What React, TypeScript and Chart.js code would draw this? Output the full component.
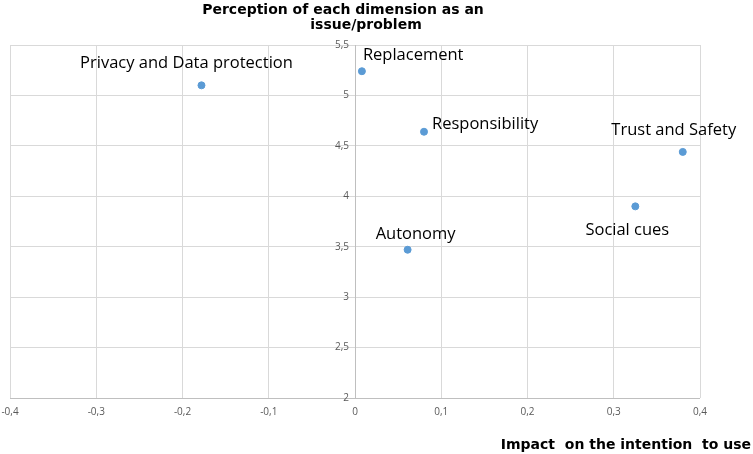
import React, { useEffect, useRef } from "react";
import { Chart, registerables } from "chart.js";

Chart.register(...registerables);

const dimensions = [
  "Privacy and Data protection",
  "Replacement",
  "Responsibility",
  "Trust and Safety",
  "Social cues",
  "Autonomy",
];
const impactValues = [-0.178, 0.008, 0.08, 0.38, 0.325, 0.061];
const perceptionValues = [5.1, 5.24, 4.64, 4.44, 3.9, 3.47];
const labelPlacement = ["aboveLeft", "aboveRight", "right", "aboveLeft", "below", "above"];

const xTickLabels = ["-0,4", "-0,3", "-0,2", "-0,1", "0", "0,1", "0,2", "0,3", "0,4"];
const yTickLabels = ["2", "2,5", "3", "3,5", "4", "4,5", "5", "5,5"];

const titleTop = ["Perception of each dimension as an", "issue/problem"];
const titleBottom = "Impact  on the intention  to use";

const labelFont = "16.5px 'Open Sans', sans-serif";

const overlay = {
  id: "overlay",
  afterDraw(chart: any) {
    const ctx = chart.ctx;
    const xs = chart.scales.x;
    const ys = chart.scales.y;
    const area = chart.chartArea;
    ctx.save();
    // y axis line at x = 0
    const x0 = xs.getPixelForValue(0);
    ctx.strokeStyle = "#bfbfbf";
    ctx.lineWidth = 1;
    ctx.beginPath();
    ctx.moveTo(Math.round(x0) + 0.5, area.top);
    ctx.lineTo(Math.round(x0) + 0.5, area.bottom);
    ctx.stroke();
    ctx.beginPath();
    ctx.moveTo(area.left, Math.round(area.bottom) + 0.5);
    ctx.lineTo(area.right, Math.round(area.bottom) + 0.5);
    ctx.stroke();

    // tick labels
    ctx.fillStyle = "#595959";
    ctx.font = "10px 'Open Sans', sans-serif";
    ctx.textAlign = "center";
    ctx.textBaseline = "middle";
    xs.ticks.forEach((t: any, i: number) => {
      const px = xs.getPixelForValue(t.value);
      ctx.fillText(xTickLabels[i] ?? "", px, area.bottom + 14);
    });
    ctx.textAlign = "right";
    ys.ticks.forEach((t: any, i: number) => {
      const py = ys.getPixelForValue(t.value);
      ctx.fillText(yTickLabels[i] ?? "", x0 - 6, py);
    });

    // point labels
    ctx.fillStyle = "#000000";
    ctx.font = labelFont;
    const meta = chart.getDatasetMeta(0);
    meta.data.forEach((pt: any, i: number) => {
      const p = labelPlacement[i];
      let lx = pt.x;
      let ly = pt.y;
      ctx.textBaseline = "middle";
      if (p === "aboveLeft") {
        ctx.textAlign = "center";
        lx = pt.x - (i === 0 ? 15 : 9);
        ly = pt.y - 22;
      } else if (p === "aboveRight") {
        ctx.textAlign = "left";
        lx = pt.x + 1;
        ly = pt.y - 16;
      } else if (p === "right") {
        ctx.textAlign = "left";
        lx = pt.x + 8;
        ly = pt.y - 7;
      } else if (p === "below") {
        ctx.textAlign = "center";
        lx = pt.x - 8;
        ly = pt.y + 24;
      } else {
        ctx.textAlign = "center";
        lx = pt.x + 8;
        ly = pt.y - 15;
      }
      ctx.fillText(dimensions[i], lx, ly);
    });

    // axis titles
    ctx.fillStyle = "#000000";
    ctx.font = "bold 14px 'DejaVu Sans', sans-serif";
    ctx.textAlign = "center";
    ctx.textBaseline = "middle";
    ctx.fillText(titleTop[0], 343, 10);
    ctx.fillText(titleTop[1], 366, 25);
    ctx.textAlign = "right";
    ctx.font = "bold 14px 'DejaVu Sans', sans-serif";
    ctx.fillText(titleBottom, 751, 445);
    ctx.restore();
  },
};

export default function App() {
  const ref = useRef<HTMLCanvasElement | null>(null);
  useEffect(() => {
    if (!ref.current) return;
    const chart = new Chart(ref.current, {
      type: "scatter",
      data: {
        datasets: [
          {
            label: "Dimensions",
            data: impactValues.map((x, i) => ({ x, y: perceptionValues[i] })),
            backgroundColor: "#5b9bd5",
            borderColor: "#5b9bd5",
            pointRadius: 3.5,
            pointHoverRadius: 3.5,
          },
        ],
      },
      options: {
        animation: false,
        responsive: false,
        maintainAspectRatio: false,
        layout: { padding: { left: 10, right: 53, top: 45, bottom: 56 } },
        plugins: { legend: { display: false }, tooltip: { enabled: false } },
        scales: {
          x: {
            type: "linear",
            min: -0.4,
            max: 0.4,
            ticks: { stepSize: 0.1, display: false },
            grid: { color: "#d9d9d9", drawTicks: false },
            border: { display: false },
          },
          y: {
            type: "linear",
            min: 2,
            max: 5.5,
            ticks: { stepSize: 0.5, display: false },
            grid: { color: "#d9d9d9", drawTicks: false },
            border: { display: false },
          },
        },
      },
      plugins: [overlay],
    });
    return () => chart.destroy();
  }, []);
  return (
    <div style={{ position: "fixed", left: 0, top: 0, width: 753, height: 454, background: "#fff" }}>
      <canvas ref={ref} width={753} height={454} style={{ width: 753, height: 454 }} />
    </div>
  );
}
